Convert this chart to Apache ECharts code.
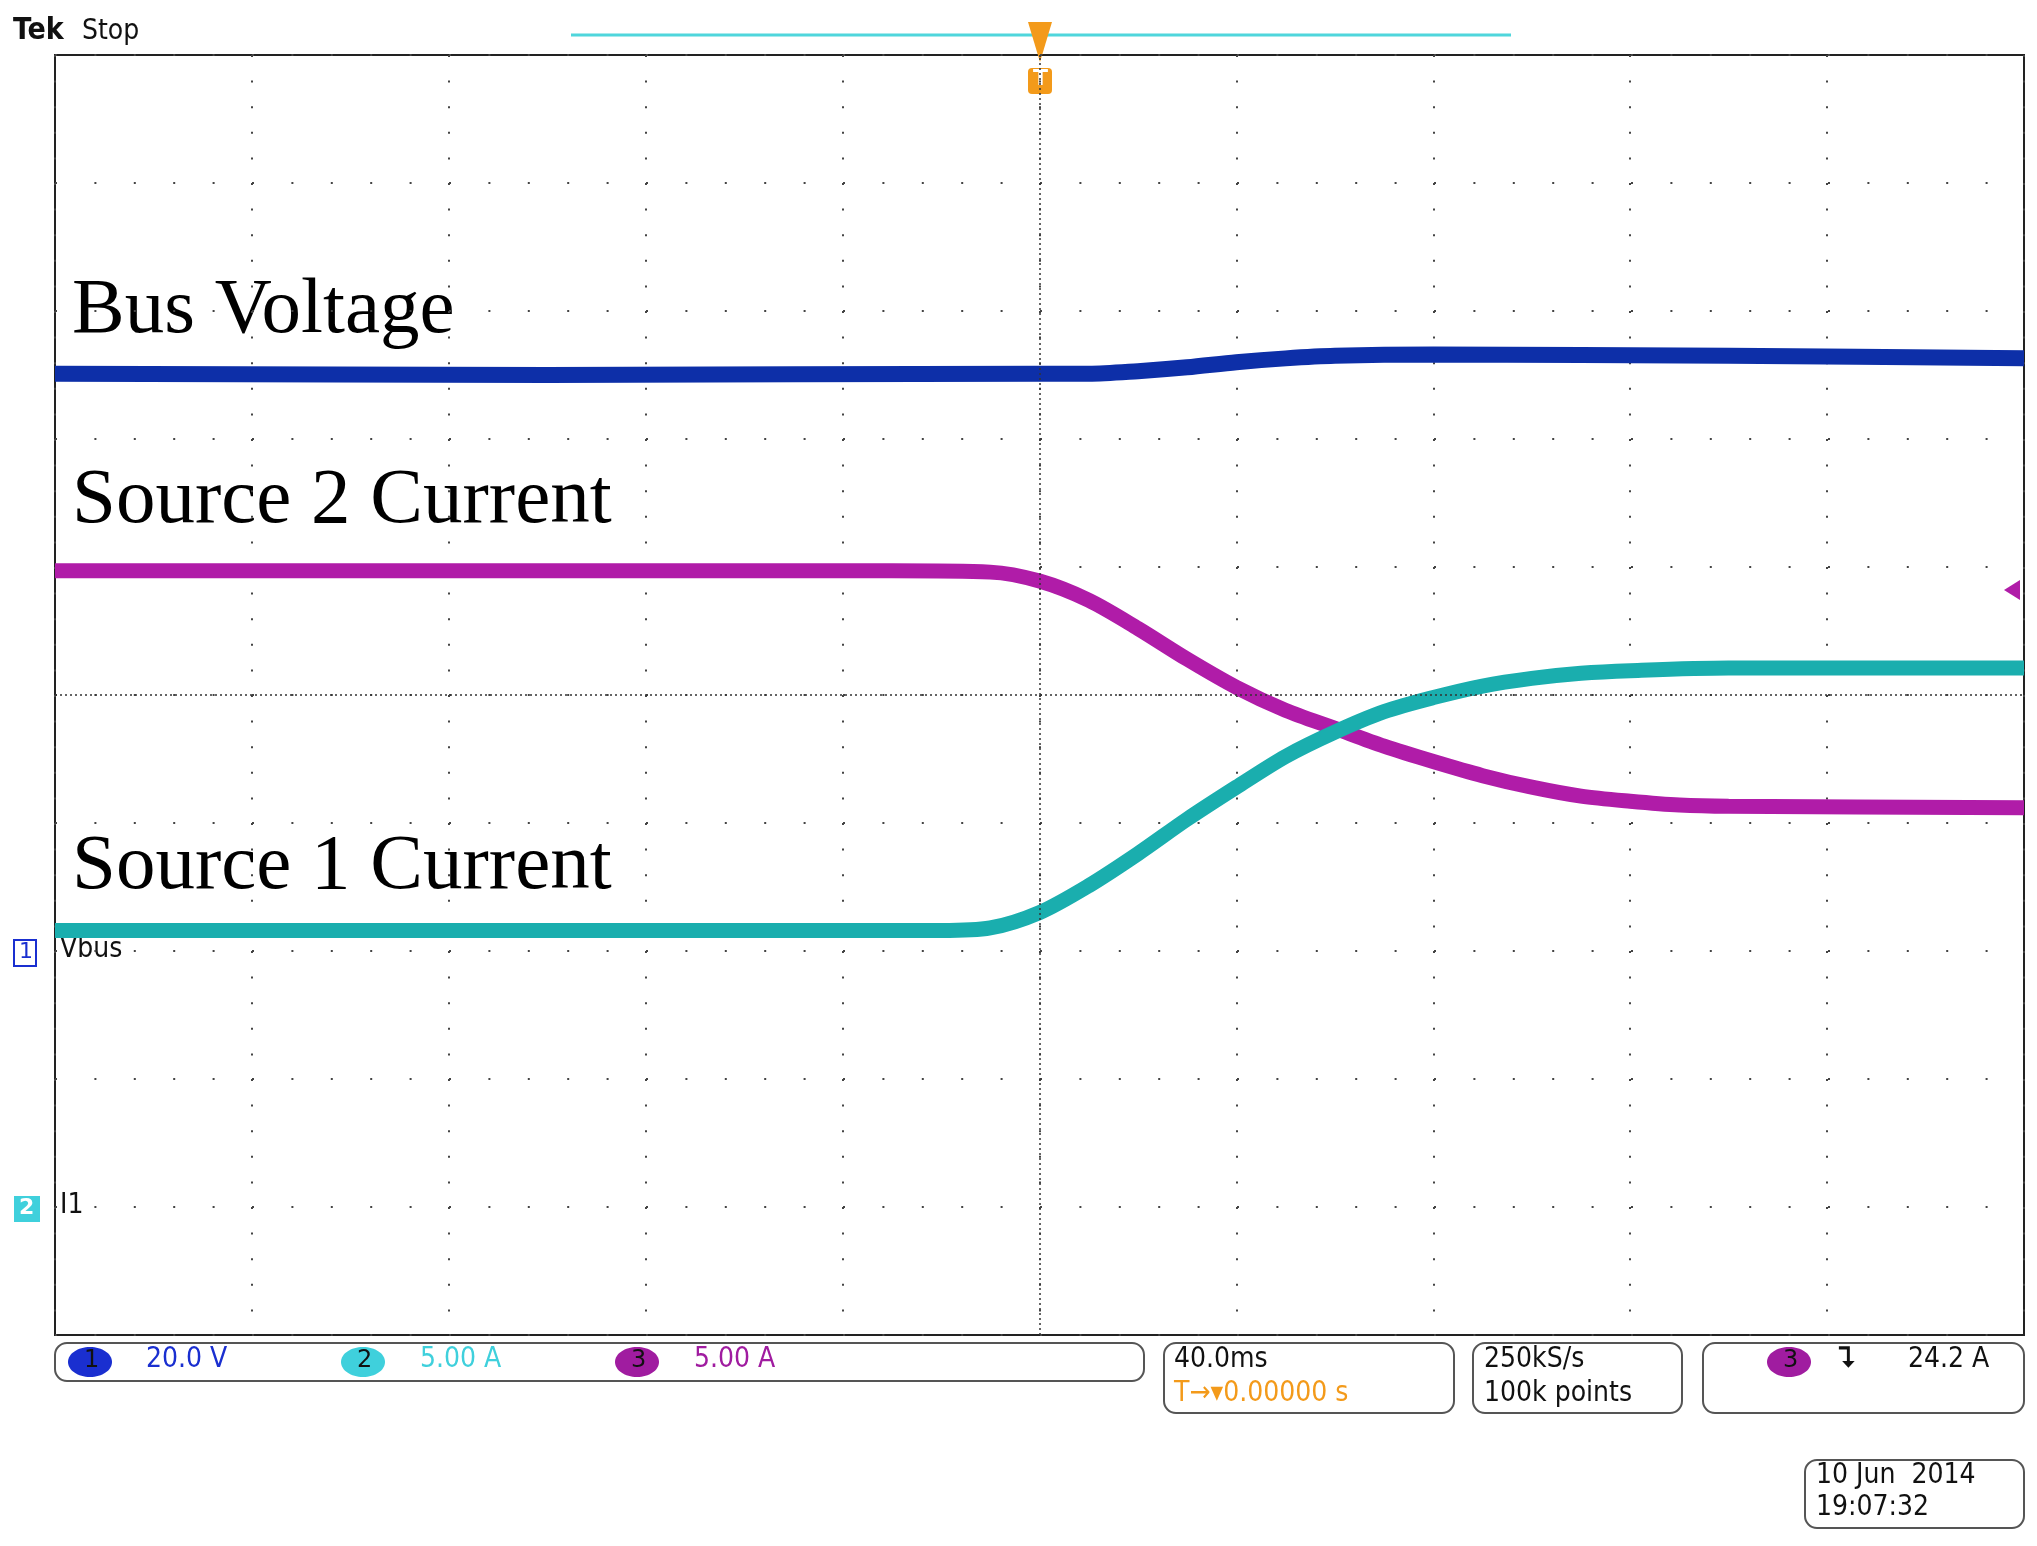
<!DOCTYPE html>
<html>
<head>
<meta charset="utf-8">
<script src="https://cdn.jsdelivr.net/npm/echarts@6/dist/echarts.min.js"></script>
<style>html,body{margin:0;padding:0;background:#fff}#chart{width:2037px;height:1546px}</style>
</head>
<body>
<div id="chart"></div>
<script>
// time in ms (40 ms/div), amplitude in screen divisions (10 x 10 graticule)
var busT = [-200, -100, 0, 10, 20, 30, 40, 50, 60, 80, 140, 200];
var busV = [2.51, 2.5, 2.51, 2.51, 2.53, 2.56, 2.60, 2.63, 2.65, 2.66, 2.65, 2.63];
var src2T = [-200, -100, -30, -10, 0, 10, 20, 30, 40, 50, 60, 70, 80, 90, 100, 110, 120, 130, 140, 200];
var src2V = [0.97, 0.97, 0.97, 0.96, 0.89, 0.74, 0.52, 0.28, 0.06, -0.12, -0.26, -0.40, -0.52, -0.63, -0.72, -0.79, -0.83, -0.86, -0.87, -0.88];
var src1T = [-200, -100, -20, -10, 0, 10, 20, 30, 40, 50, 60, 70, 80, 90, 100, 110, 120, 140, 200];
var src1V = [-1.84, -1.84, -1.84, -1.82, -1.70, -1.49, -1.24, -0.97, -0.72, -0.48, -0.29, -0.13, -0.02, 0.07, 0.13, 0.17, 0.19, 0.21, 0.21];

function pairs(t, v) {
    return t.map(function (x, i) { return [x, v[i]]; });
}

var myChart = echarts.init(document.getElementById('chart'));
var option = {
    animation: false,
    grid: { left: 55, right: 13, top: 55, bottom: 211, show: true, borderColor: '#222', borderWidth: 2 },
    xAxis: {
        type: 'value', min: -200, max: 200, interval: 40,
        axisLabel: { show: false }, axisTick: { show: false }, axisLine: { show: false },
        splitLine: { show: true, lineStyle: { type: [2, 23.6], color: '#444', width: 2 } }
    },
    yAxis: {
        type: 'value', min: -5, max: 5, interval: 1,
        axisLabel: { show: false }, axisTick: { show: false }, axisLine: { show: false },
        splitLine: { show: true, lineStyle: { type: [2, 37.4], color: '#444', width: 2 } }
    },
    series: [
        {
            name: 'center', type: 'line', data: [], silent: true,
            markLine: {
                symbol: 'none', label: { show: false },
                lineStyle: { type: [2, 3], color: '#333', width: 1.5 },
                data: [{ xAxis: 0 }, { yAxis: 0 }]
            }
        },
        {
            name: 'Bus Voltage', type: 'line', smooth: 0.3, showSymbol: false,
            data: pairs(busT, busV), lineStyle: { color: '#0d2fa8', width: 16 }
        },
        {
            name: 'Source 2 Current', type: 'line', smooth: 0.3, showSymbol: false,
            data: pairs(src2T, src2V), lineStyle: { color: '#b01ca8', width: 15 }
        },
        {
            name: 'Source 1 Current', type: 'line', smooth: 0.3, showSymbol: false,
            data: pairs(src1T, src1V), lineStyle: { color: '#1aaeae', width: 15 }
        }
    ],
    graphic: [
        { type: 'text', left: 13, top: 16, style: { text: 'Tek', font: 'bold 30px "DejaVu Sans Condensed"', fill: '#111' } },
        { type: 'text', left: 82, top: 18, style: { text: 'Stop', font: '28px "DejaVu Sans Condensed"', fill: '#111' } },
        { type: 'line', shape: { x1: 571, y1: 35, x2: 1511, y2: 35 }, style: { stroke: '#4fd6dc', lineWidth: 3 } },
        { type: 'polygon', shape: { points: [[1028, 22], [1052, 22], [1040, 62]] }, style: { fill: '#f39a1a' } },
        { type: 'rect', shape: { x: 1028, y: 68, width: 24, height: 26, r: 4 }, style: { fill: '#f39a1a' } },
        { type: 'text', left: 1033, top: 68, style: { text: 'T', font: 'bold 22px "DejaVu Sans"', fill: '#fff' } },
        { type: 'text', left: 72, top: 272, style: { text: 'Bus Voltage', font: '79px "Liberation Serif"', fill: '#000' } },
        { type: 'text', left: 72, top: 462, style: { text: 'Source 2 Current', font: '79px "Liberation Serif"', fill: '#000' } },
        { type: 'text', left: 72, top: 828, style: { text: 'Source 1 Current', font: '79px "Liberation Serif"', fill: '#000' } },
        { type: 'rect', shape: { x: 14, y: 940, width: 22, height: 26 }, style: { fill: '#fff', stroke: '#1a2fd0', lineWidth: 2 } },
        { type: 'text', left: 19, top: 941, style: { text: '1', font: '22px "DejaVu Sans"', fill: '#1a2fd0' } },
        { type: 'text', left: 60, top: 936, style: { text: 'Vbus', font: '28px "DejaVu Sans Condensed"', fill: '#111' } },
        { type: 'rect', shape: { x: 14, y: 1196, width: 26, height: 26 }, style: { fill: '#3fd0dc' } },
        { type: 'text', left: 19, top: 1197, style: { text: '2', font: 'bold 22px "DejaVu Sans"', fill: '#fff' } },
        { type: 'text', left: 60, top: 1192, style: { text: 'I1', font: '28px "DejaVu Sans Condensed"', fill: '#111' } },
        { type: 'polygon', shape: { points: [[2004, 590], [2020, 580], [2020, 600]] }, style: { fill: '#b01ca8' } },
        // status bar
        { type: 'rect', shape: { x: 55, y: 1343, width: 1089, height: 38, r: 12 }, style: { fill: '#fff', stroke: '#555', lineWidth: 2 } },
        { type: 'ellipse', shape: { cx: 90, cy: 1362, rx: 22, ry: 15 }, style: { fill: '#1a2fd0' } },
        { type: 'text', left: 84, top: 1349, style: { text: '1', font: '24px "DejaVu Sans"', fill: '#111' } },
        { type: 'text', left: 146, top: 1346, style: { text: '20.0 V', font: '28px "DejaVu Sans Condensed"', fill: '#1a2fd0' } },
        { type: 'ellipse', shape: { cx: 363, cy: 1362, rx: 22, ry: 15 }, style: { fill: '#3fd0dc' } },
        { type: 'text', left: 357, top: 1349, style: { text: '2', font: '24px "DejaVu Sans"', fill: '#111' } },
        { type: 'text', left: 420, top: 1346, style: { text: '5.00 A', font: '28px "DejaVu Sans Condensed"', fill: '#3fd0dc' } },
        { type: 'ellipse', shape: { cx: 637, cy: 1362, rx: 22, ry: 15 }, style: { fill: '#a01ca0' } },
        { type: 'text', left: 631, top: 1349, style: { text: '3', font: '24px "DejaVu Sans"', fill: '#111' } },
        { type: 'text', left: 694, top: 1346, style: { text: '5.00 A', font: '28px "DejaVu Sans Condensed"', fill: '#a01ca0' } },
        { type: 'rect', shape: { x: 1164, y: 1343, width: 290, height: 70, r: 12 }, style: { fill: '#fff', stroke: '#555', lineWidth: 2 } },
        { type: 'text', left: 1174, top: 1346, style: { text: '40.0ms', font: '28px "DejaVu Sans Condensed"', fill: '#111' } },
        { type: 'text', left: 1174, top: 1380, style: { text: 'T→▾0.00000 s', font: '28px "DejaVu Sans Condensed"', fill: '#f39a1a' } },
        { type: 'rect', shape: { x: 1473, y: 1343, width: 209, height: 70, r: 12 }, style: { fill: '#fff', stroke: '#555', lineWidth: 2 } },
        { type: 'text', left: 1484, top: 1346, style: { text: '250kS/s', font: '28px "DejaVu Sans Condensed"', fill: '#111' } },
        { type: 'text', left: 1484, top: 1380, style: { text: '100k points', font: '28px "DejaVu Sans Condensed"', fill: '#111' } },
        { type: 'rect', shape: { x: 1703, y: 1343, width: 321, height: 70, r: 12 }, style: { fill: '#fff', stroke: '#555', lineWidth: 2 } },
        { type: 'ellipse', shape: { cx: 1789, cy: 1362, rx: 22, ry: 15 }, style: { fill: '#a01ca0' } },
        { type: 'text', left: 1783, top: 1349, style: { text: '3', font: '24px "DejaVu Sans"', fill: '#111' } },
        { type: 'text', left: 1838, top: 1346, style: { text: '\u2ba7', font: 'bold 28px "DejaVu Sans"', fill: '#111' } },
        { type: 'text', left: 1908, top: 1346, style: { text: '24.2 A', font: '28px "DejaVu Sans Condensed"', fill: '#111' } },
        { type: 'rect', shape: { x: 1805, y: 1460, width: 219, height: 68, r: 12 }, style: { fill: '#fff', stroke: '#555', lineWidth: 2 } },
        { type: 'text', left: 1816, top: 1462, style: { text: '10 Jun  2014', font: '28px "DejaVu Sans Condensed"', fill: '#111' } },
        { type: 'text', left: 1816, top: 1494, style: { text: '19:07:32', font: '28px "DejaVu Sans Condensed"', fill: '#111' } }
    ]
};
myChart.setOption(option, true);
</script>
</body>
</html>
